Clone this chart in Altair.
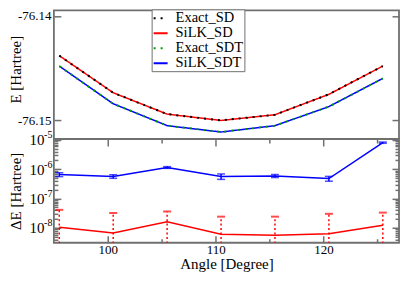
import altair as alt
import pandas as pd

# ---------------- data ----------------
angles = [95.5, 100.5, 105.5, 110.5, 115.5, 120.5, 125.5]

exact_sd = [-76.14382, -76.14738, -76.14943, -76.15004, -76.14949, -76.14753, -76.14482]
silk_sd = [-76.14382, -76.14738, -76.14943, -76.15004, -76.14949, -76.14753, -76.14482]
exact_sdt = [-76.14482, -76.14844, -76.15054, -76.15115, -76.15054, -76.14871, -76.14600]
silk_sdt = [-76.14482, -76.14844, -76.15054, -76.15115, -76.15054, -76.14871, -76.14600]

de_sd = [1.04e-8, 6.6e-9, 1.6e-8, 6.0e-9, 5.5e-9, 6.2e-9, 1.23e-8]
de_sd_err = [3.06e-8, 2.54e-8, 2.0e-8, 1.8e-8, 1.85e-8, 2.38e-8, 2.07e-8]
de_sdt = [6.6e-7, 5.7e-7, 1.15e-6, 5.7e-7, 5.9e-7, 4.8e-7, 8.1e-6]
de_sdt_err = [1.0e-7, 0.8e-7, 0.8e-7, 1.2e-7, 0.7e-7, 0.9e-7, 0.4e-6]

series_names = ["Exact_SD", "SiLK_SD", "Exact_SDT", "SiLK_SDT"]
series_colors = ["#000000", "#ff0000", "#00a000", "#0000ff"]
series_dashes = [[2, 5], [1, 0], [2, 5], [1, 0]]

x_ticks_major = [100, 110, 120]
x_ticks_minor = [105, 115, 125]
e_ticks = [-76.15, -76.14]
de_ticks_major = [1e-8, 1e-7, 1e-6, 1e-5]
de_ticks_minor = [4e-9, 5e-9, 6e-9, 7e-9, 8e-9, 9e-9,
                  2e-8, 3e-8, 4e-8, 5e-8, 6e-8, 7e-8, 8e-8, 9e-8,
                  2e-7, 3e-7, 4e-7, 5e-7, 6e-7, 7e-7, 8e-7, 9e-7,
                  2e-6, 3e-6, 4e-6, 5e-6, 6e-6, 7e-6, 8e-6, 9e-6]

FONT = "Liberation Serif, Times New Roman, serif"
FRAME = "#707070"
X_DOM = [95, 127]
W = 346

# ---------------- top panel ----------------
rows = []
for name, vals in zip(series_names, [exact_sd, silk_sd, exact_sdt, silk_sdt]):
    for a, v in zip(angles, vals):
        rows.append({"angle": a, "E": v, "series": name})
top_df = pd.DataFrame(rows)

legend = alt.Legend(title=None, orient="none", legendX=98, legendY=-1,
                    fillColor="white", strokeColor=FRAME, padding=1,
                    symbolType="stroke", symbolSize=196, symbolStrokeWidth=2,
                    labelFont=FONT, labelFontSize=14.5, labelColor="black",
                    rowPadding=0, labelOffset=7)
color = alt.Color("series:N", scale=alt.Scale(domain=series_names, range=series_colors), legend=legend)
dash = alt.StrokeDash("series:N", scale=alt.Scale(domain=series_names, range=series_dashes), legend=legend)

x_top = alt.X("angle:Q", scale=alt.Scale(domain=X_DOM, nice=False, zero=False), axis=None)
y_top_scale = alt.Scale(domain=[-76.15182, -76.13947], nice=False, zero=False)

t_lines = alt.Chart(top_df).transform_filter(
    alt.FieldOneOfPredicate(field="series", oneOf=["SiLK_SD", "SiLK_SDT"])
).mark_line(strokeWidth=1.5).encode(
    x=x_top,
    y=alt.Y("E:Q", scale=y_top_scale,
            axis=alt.Axis(orient="left", values=e_ticks, offset=-7, tickSize=7,
                          labelPadding=3, labelFontSize=13,
                          labelExpr="'-' + format(abs(datum.value), '.2f')",
                          title="E [Hartree]", titleX=-52, titleY=59, titleAngle=-90,
                          titleBaseline="top", titleAlign="center", titleFontSize=15)),
    color=color, strokeDash=dash,
)
t_dots = alt.Chart(top_df).transform_filter(
    alt.FieldOneOfPredicate(field="series", oneOf=["Exact_SD", "Exact_SDT"])
).mark_line(strokeWidth=2, strokeCap="butt").encode(
    x=x_top,
    y=alt.Y("E:Q", scale=y_top_scale,
            axis=alt.Axis(orient="right", values=e_ticks, offset=-7, tickSize=7,
                          labels=False, title=None)),
    color=color, strokeDash=dash,
)
top = alt.layer(t_lines, t_dots).resolve_axis(y="independent").properties(width=W, height=129)

# ---------------- bottom panel ----------------
bot_df = pd.DataFrame({
    "angle": angles,
    "sd": de_sd,
    "sd_hi": [v + e for v, e in zip(de_sd, de_sd_err)],
    "sd_lo": [max(v - e, 1e-9) for v, e in zip(de_sd, de_sd_err)],
    "sdt": de_sdt,
    "sdt_hi": [v + e for v, e in zip(de_sdt, de_sdt_err)],
    "sdt_lo": [v - e for v, e in zip(de_sdt, de_sdt_err)],
})

xs = alt.Scale(domain=X_DOM, nice=False, zero=False)
ys = alt.Scale(type="log", domain=[3.08e-9, 1.08e-5], nice=False)

def xax(orient, values, size, **kw):
    return alt.Axis(orient=orient, values=values, offset=-size, tickSize=size, **kw)

base = alt.Chart(bot_df)

b_blue = base.mark_line(color="#0000ff", strokeWidth=1.5).encode(
    x=alt.X("angle:Q", scale=xs,
            axis=xax("bottom", x_ticks_major, 7, labelPadding=1, labelFontSize=13,
                     title="Angle [Degree]", titleFontSize=15, titlePadding=0)),
    y=alt.Y("sdt:Q", scale=ys,
            axis=alt.Axis(orient="left", values=de_ticks_major, offset=-7, tickSize=7,
                          labelPadding=10, labelFontSize=15, labelExpr="'10'",
                          title="ΔE [Hartree]", titleX=-52, titleAngle=-90,
                          titleBaseline="top", titleAlign="center", titleFontSize=15)),
)
b_red = base.mark_line(color="#ff0000", strokeWidth=1.5).encode(
    x=alt.X("angle:Q", scale=xs, axis=xax("top", x_ticks_major, 7, labels=False, title=None)),
    y=alt.Y("sd:Q", scale=ys,
            axis=alt.Axis(orient="right", values=de_ticks_major, offset=-7, tickSize=7,
                          labels=False, title=None)),
)
b_blue_err = base.mark_rule(color="#0000ff", strokeWidth=1.5).encode(
    x=alt.X("angle:Q", scale=xs, axis=xax("bottom", x_ticks_minor, 4, labels=False, title=None)),
    y=alt.Y("sdt_lo:Q", scale=ys,
            axis=alt.Axis(orient="left", values=de_ticks_minor, offset=-4, tickSize=4,
                          labels=False, title=None)),
    y2="sdt_hi:Q",
)
b_red_err = base.mark_rule(color="#ff0000", strokeWidth=1.5, strokeDash=[2, 2.5], clip=True).encode(
    x=alt.X("angle:Q", scale=xs, axis=xax("top", x_ticks_minor, 4, labels=False, title=None)),
    y=alt.Y("sd_lo:Q", scale=ys,
            axis=alt.Axis(orient="right", values=de_ticks_minor, offset=-4, tickSize=4,
                          labels=False, title=None)),
    y2="sd_hi:Q",
)
b_blue_cap_hi = base.mark_tick(orient="horizontal", color="#0000ff", size=8, thickness=1.5).encode(
    x=alt.X("angle:Q", scale=xs, axis=None),
    y=alt.Y("sdt_hi:Q", scale=ys,
            axis=alt.Axis(orient="left", values=de_ticks_major, ticks=False, tickSize=0,
                          labelPadding=2, labelFontSize=10, labelOffset=-5,
                          labelExpr="toString(round(log(datum.value) / LN10))", title=None)),
)
b_blue_cap_lo = base.mark_tick(orient="horizontal", color="#0000ff", size=8, thickness=1.5).encode(
    x=alt.X("angle:Q", scale=xs, axis=None),
    y=alt.Y("sdt_lo:Q", scale=ys, axis=None),
)
b_red_cap = base.mark_tick(orient="horizontal", color="#ff0000", size=8, thickness=2).encode(
    x=alt.X("angle:Q", scale=xs, axis=None),
    y=alt.Y("sd_hi:Q", scale=ys, axis=None),
)

bottom = alt.layer(
    b_red_err, b_blue_err, b_red_cap, b_blue_cap_lo, b_blue_cap_hi, b_red, b_blue
).resolve_axis(x="independent", y="independent").properties(width=W, height=104)

chart = alt.vconcat(top, bottom, spacing=0, bounds="flush").properties(
    padding={"left": 0, "top": 0, "right": 0, "bottom": 0}
).configure_view(
    stroke=FRAME, strokeWidth=1.8
).configure_axis(
    labelFont=FONT, titleFont=FONT, labelColor="black", titleColor="black",
    tickColor=FRAME, tickWidth=1.5, domain=False, grid=False, titleFontWeight="normal",
).configure_legend(
    labelFont=FONT
)

chart.save("out.html", embed_options={"renderer": "svg", "actions": False})
